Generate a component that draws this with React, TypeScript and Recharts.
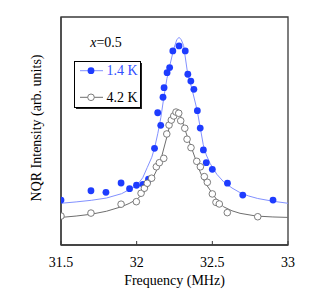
import React from 'react';
import { ComposedChart, Line, Scatter, XAxis, YAxis, Legend, ReferenceArea } from 'recharts';

const FONT = '"Liberation Serif", "Times New Roman", serif';
const FS = 14;
const BLUE = '#1e3cff';
const BLUE_LINE = '#8291ff';
const GRAY = '#6e6e6e';
const FRAME = '#3a3a3a';

const freqTicks = [31.5, 32, 32.5, 33];
const innerTicks = [32, 32.5];

// 1.4 K data points
const blueFreq = [
  31.5, 31.698, 31.797, 31.897, 31.953, 31.999, 32.042, 32.078, 32.118, 32.139,
  32.159, 32.174, 32.181, 32.201, 32.218, 32.239, 32.28, 32.321, 32.338, 32.358,
  32.378, 32.401, 32.42, 32.441, 32.46, 32.5, 32.6, 32.701, 32.901,
];
const blueVal = [
  19.7, 23.8, 23.1, 27.2, 24.7, 26.2, 26.6, 28.9, 42.4, 58.0,
  52.5, 64.8, 69.0, 75.6, 77.8, 85.1, 87.3, 85.1, 74.9, 71.9,
  68.3, 58.9, 51.3, 41.7, 36.1, 33.2, 27.1, 21.9, 19.7,
];

// 4.2 K data points
const grayFreq = [
  31.5, 31.698, 31.897, 31.998, 32.029, 32.051, 32.07, 32.099, 32.13, 32.15,
  32.179, 32.199, 32.214, 32.229, 32.245, 32.26, 32.278, 32.291, 32.318, 32.333,
  32.359, 32.397, 32.421, 32.447, 32.467, 32.5, 32.524, 32.546, 32.599, 32.8,
];
const grayVal = [
  12.7, 14.0, 17.9, 19.0, 22.7, 24.9, 27.1, 29.3, 34.3, 36.1,
  38.0, 48.7, 52.6, 54.8, 56.6, 58.3, 57.8, 54.5, 51.2, 46.4,
  42.7, 36.7, 34.3, 30.0, 27.5, 22.4, 18.7, 18.0, 14.2, 12.4,
];

// fitted curves
const blueFitFreq = [
  31.5, 31.6, 31.7, 31.8, 31.9, 32.0, 32.04, 32.07, 32.1, 32.12, 32.14, 32.16,
  32.18, 32.2, 32.22, 32.245, 32.265, 32.28, 32.295, 32.31, 32.335, 32.365, 32.4,
  32.42, 32.44, 32.46, 32.485, 32.53, 32.575, 32.63, 32.685, 32.74, 32.8, 32.9, 33.0,
];
const blueFitVal = [
  18.3, 18.9, 19.6, 20.6, 22.5, 26.0, 29.5, 34.0, 38.5, 43.0, 49.0, 56.0,
  65.0, 73.0, 79.0, 86.0, 90.0, 91.1, 90.0, 87.5, 76.0, 68.5, 59.0,
  51.5, 44.0, 39.5, 35.8, 31.0, 27.7, 25.0, 22.9, 21.5, 20.4, 19.2, 18.3,
];

const grayFitFreq = [
  31.5, 31.6, 31.7, 31.8, 31.9, 31.95, 32.0, 32.04, 32.07, 32.1, 32.13, 32.16,
  32.2, 32.23, 32.258, 32.29, 32.31, 32.335, 32.36, 32.39, 32.419, 32.45, 32.485,
  32.53, 32.573, 32.63, 32.683, 32.79, 32.9, 33.0,
];
const grayFitVal = [
  12.1, 12.7, 13.5, 14.8, 16.8, 18.2, 20.0, 22.3, 25.0, 28.5, 32.5, 37.5,
  47.5, 55.5, 59.2, 56.5, 52.5, 47.5, 43.0, 37.5, 32.1, 27.5, 24.1,
  19.8, 16.8, 15.0, 13.9, 12.7, 12.3, 12.1,
];

const zip = (fs: number[], vs: number[]) => fs.map((f, i) => ({ f, v: vs[i] }));

const bluePts = zip(blueFreq, blueVal);
const grayPts = zip(grayFreq, grayVal);
const blueFit = zip(blueFitFreq, blueFitVal);
const grayFit = zip(grayFitFreq, grayFitVal);

const YLabel = (props: any) => {
  const vb = props.viewBox || {};
  const x = vb.x + vb.width - 20;
  const y = vb.y + vb.height / 2 - 3;
  return (
    <text
      x={x}
      y={y}
      transform={`rotate(-90, ${x}, ${y})`}
      textAnchor="middle"
      fontFamily={FONT}
      fontSize={FS}
      fill="#000"
    >
      NQR Intensity (arb. units)
    </text>
  );
};

const LegendBox = () => (
  <svg width={80} height={80} style={{ display: 'block' }}>
    <text x={36} y={13.7} textAnchor="middle" fontFamily={FONT} fontSize={FS} fill="#000">
      <tspan fontStyle="italic">x</tspan>=0.5
    </text>
    <rect x={6} y={30} width={66} height={46} fill="#222" />
    <rect x={4.5} y={28.5} width={66} height={46} fill="#fff" stroke="#000" strokeWidth={1} />
    <line x1={10} x2={33} y1={37.7} y2={37.7} stroke={BLUE_LINE} strokeWidth={1} />
    <circle cx={21} cy={37.7} r={3.4} fill={BLUE} />
    <text x={36.5} y={42.4} fontFamily={FONT} fontSize={FS} fill="#3350ff">1.4 K</text>
    <line x1={10} x2={33} y1={64.3} y2={64.3} stroke={GRAY} strokeWidth={1} />
    <circle cx={21} cy={64.3} r={3.3} fill="#fff" stroke={GRAY} strokeWidth={0.9} />
    <text x={36.5} y={68.9} fontFamily={FONT} fontSize={FS} fill="#000">4.2 K</text>
  </svg>
);

export default function App() {
  return (
    <div style={{ position: 'absolute', left: 0, top: 0, fontFamily: FONT }}>
      <ComposedChart width={321} height={303} margin={{ top: 17, right: 33, left: 0, bottom: 0 }}>
        <XAxis
          dataKey="f"
          type="number"
          domain={[31.5, 33]}
          ticks={freqTicks}
          height={58}
          tickSize={-4}
          tickMargin={16}
          axisLine={{ stroke: FRAME, strokeWidth: 1.3 }}
          tickLine={{ stroke: FRAME }}
          tick={{ fill: '#000', fontSize: FS, fontFamily: FONT }}
          allowDataOverflow
          label={{ value: 'Frequency (MHz)', position: 'insideBottom', offset: 18, fill: '#000', fontSize: FS, fontFamily: FONT }}
        />
        <XAxis
          xAxisId="top"
          orientation="top"
          dataKey="f"
          type="number"
          domain={[31.5, 33]}
          ticks={innerTicks}
          height={0}
          tickSize={-4}
          tick={false}
          axisLine={false}
          tickLine={{ stroke: FRAME }}
          allowDataOverflow
        />
        <YAxis
          dataKey="v"
          type="number"
          domain={[0, 100]}
          width={61}
          tick={false}
          tickLine={false}
          axisLine={{ stroke: FRAME, strokeWidth: 1.3 }}
          label={<YLabel />}
          allowDataOverflow
        />
        <YAxis
          yAxisId="r"
          orientation="right"
          dataKey="v"
          type="number"
          domain={[0, 100]}
          width={0}
          tick={false}
          tickLine={false}
          axisLine={false}
          allowDataOverflow
        />
        <ReferenceArea
          x1={31.5}
          x2={33}
          y1={0}
          y2={100}
          fill="none"
          fillOpacity={0}
          stroke={FRAME}
          strokeWidth={1.3}
          ifOverflow="visible"
        />
        <Legend
          layout="vertical"
          align="center"
          verticalAlign="middle"
          content={<LegendBox />}
          wrapperStyle={{ left: 70, top: 33, width: 80, height: 80 }}
        />
        <Line
          data={blueFit}
          xAxisId="top"
          yAxisId="r"
          dataKey="v"
          stroke="none"
          dot={false}
          isAnimationActive={false}
          legendType="none"
        />
        <Line data={blueFit} dataKey="v" stroke={BLUE_LINE} strokeWidth={1} dot={false} isAnimationActive={false} legendType="none" />
        <Line data={grayFit} dataKey="v" stroke={GRAY} strokeWidth={1} dot={false} isAnimationActive={false} legendType="none" />
        <Scatter
          data={bluePts}
          dataKey="v"
          isAnimationActive={false}
          shape={(p: any) => <circle cx={p.cx} cy={p.cy} r={3.4} fill={BLUE} />}
        />
        <Scatter
          data={grayPts}
          dataKey="v"
          isAnimationActive={false}
          shape={(p: any) => <circle cx={p.cx} cy={p.cy} r={3.3} fill="#fff" stroke={GRAY} strokeWidth={0.9} />}
        />
      </ComposedChart>
    </div>
  );
}
